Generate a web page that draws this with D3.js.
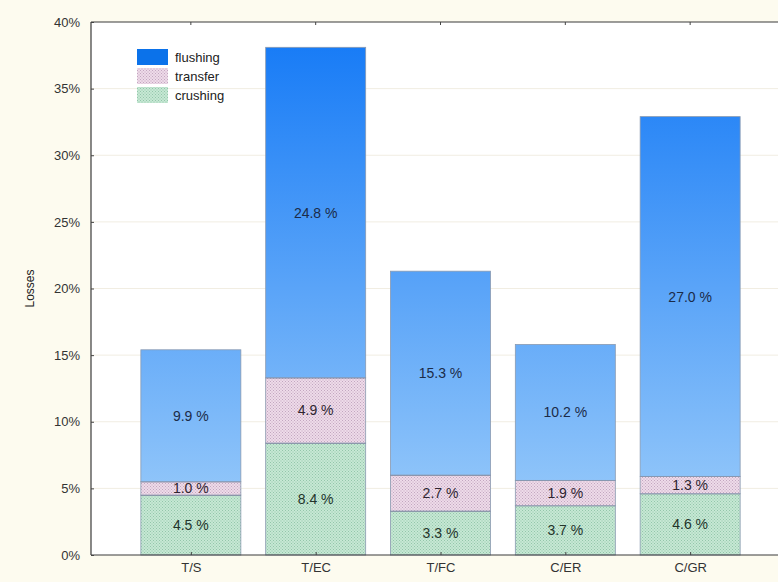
<!DOCTYPE html>
<html>
<head>
<meta charset="utf-8">
<script src="https://cdn.jsdelivr.net/npm/d3@7/dist/d3.min.js"></script>
<style>
  html, body { margin: 0; padding: 0; background: #fdfbef; }
  svg { display: block; }
  text { font-family: Arial, "Liberation Sans", sans-serif; }
</style>
</head>
<body>
<svg id="chart" width="778" height="582"></svg>
<script>
// Loss categories and per-stage shares (percent)
const categories = ["T/S", "T/EC", "T/FC", "C/ER", "C/GR"];
const crushing = [4.5, 8.4, 3.3, 3.7, 4.6];
const transfer = [1.0, 4.9, 2.7, 1.9, 1.3];
const flushing = [9.9, 24.8, 15.3, 10.2, 27.0];
const seriesNames = ["crushing", "transfer", "flushing"];
const legendOrder = ["flushing", "transfer", "crushing"];
const yTicks = [0, 5, 10, 15, 20, 25, 30, 35, 40];

const svg = d3.select("#chart");
const W = 778, H = 582;
const m = { left: 91, top: 22, bottom: 27 };
const plotRight = 790;

const x = d3.scalePoint().domain(categories).range([m.left, plotRight]).padding(0.8);
const y = d3.scaleLinear().domain([0, 40]).range([H - m.bottom, m.top]);
const barW = 100;

const defs = svg.append("defs");
// Flushing gradient runs over the whole value axis, so taller bars get deeper blue at the top
const grad = defs.append("linearGradient")
  .attr("id", "flushGrad").attr("gradientUnits", "userSpaceOnUse")
  .attr("x1", 0).attr("y1", y(40)).attr("x2", 0).attr("y2", y(0));
grad.append("stop").attr("offset", "0%").attr("stop-color", "#1278f6");
grad.append("stop").attr("offset", "100%").attr("stop-color", "#a2d0fa");

function dotPattern(id, bg, dot) {
  const p = defs.append("pattern").attr("id", id)
    .attr("width", 3).attr("height", 3).attr("patternUnits", "userSpaceOnUse");
  p.append("rect").attr("width", 3).attr("height", 3).attr("fill", bg);
  p.append("rect").attr("x", 0).attr("y", 0).attr("width", 1).attr("height", 1).attr("fill", dot);
  p.append("rect").attr("x", 1.5).attr("y", 1.5).attr("width", 1).attr("height", 1).attr("fill", dot);
}
dotPattern("transferPat", "#eedbe9", "#c3a6c0");
dotPattern("crushPat", "#c6e8d4", "#93c6aa");

const fills = {
  crushing: "url(#crushPat)",
  transfer: "url(#transferPat)",
  flushing: "url(#flushGrad)"
};
const legendFills = {
  crushing: "url(#crushPat)",
  transfer: "url(#transferPat)",
  flushing: "#0b72ea"
};
const labelColors = { crushing: "#23342b", transfer: "#2e2530", flushing: "#1b2b48" };

// Plot background
svg.append("rect")
  .attr("x", m.left).attr("y", m.top)
  .attr("width", W - m.left).attr("height", y(0) - m.top)
  .attr("fill", "#ffffff");

// Horizontal grid
svg.append("g").selectAll("line").data(yTicks.slice(1, -1)).join("line")
  .attr("x1", m.left).attr("x2", W)
  .attr("y1", d => y(d)).attr("y2", d => y(d))
  .attr("stroke", "#f1ede2").attr("stroke-width", 1);

// Stacked data
const rows = categories.map((c, i) => ({ cat: c, crushing: crushing[i], transfer: transfer[i], flushing: flushing[i] }));
const stacked = d3.stack().keys(seriesNames)(rows);

const layers = svg.append("g").selectAll("g").data(stacked).join("g");
layers.selectAll("rect").data(d => d.map(v => ({ key: d.key, v }))).join("rect")
  .attr("x", d => x(d.v.data.cat) - barW / 2)
  .attr("y", d => y(d.v[1]))
  .attr("width", barW)
  .attr("height", d => y(d.v[0]) - y(d.v[1]))
  .attr("fill", d => fills[d.key])
  .attr("stroke", "#8a9ab0").attr("stroke-width", 0.8);

// Segment separators
layers.filter(d => d.key !== "flushing").selectAll("line").data(d => d).join("line")
  .attr("x1", d => x(d.data.cat) - barW / 2).attr("x2", d => x(d.data.cat) + barW / 2)
  .attr("y1", d => y(d[1])).attr("y2", d => y(d[1]))
  .attr("stroke", "#6f6f8a").attr("stroke-width", 1);

// Value labels
layers.selectAll("text").data(d => d.map(v => ({ key: d.key, v }))).join("text")
  .attr("x", d => x(d.v.data.cat))
  .attr("y", d => (y(d.v[0]) + y(d.v[1])) / 2)
  .attr("dy", "0.36em")
  .attr("text-anchor", "middle")
  .attr("font-size", 14)
  .attr("fill", d => labelColors[d.key])
  .text(d => d3.format(".1f")(d.v.data[d.key]) + " %");

// Axes frame
const frame = svg.append("g").attr("stroke", "#3a3a3a").attr("stroke-width", 1.2);
frame.append("line").attr("x1", m.left).attr("x2", W).attr("y1", m.top).attr("y2", m.top);
frame.append("line").attr("x1", m.left).attr("x2", W).attr("y1", y(0)).attr("y2", y(0));
frame.append("line").attr("x1", m.left).attr("x2", m.left).attr("y1", m.top).attr("y2", y(0));

// Y axis
const yAxis = svg.append("g").attr("transform", `translate(${m.left},0)`)
  .call(d3.axisLeft(y).tickValues(yTicks).tickFormat(d => d + "%").tickSize(-3).tickPadding(11));
yAxis.select(".domain").remove();
yAxis.selectAll(".tick line").attr("stroke", "#444");
yAxis.selectAll(".tick text").attr("font-size", 13).attr("fill", "#333")
  .style("font-family", "Arial, 'Liberation Sans', sans-serif");

// X axis
const xAxis = svg.append("g").attr("transform", `translate(0,${y(0)})`)
  .call(d3.axisBottom(x).tickSize(-3).tickPadding(8));
xAxis.select(".domain").remove();
xAxis.selectAll(".tick line").attr("stroke", "#444");
xAxis.selectAll(".tick text").attr("font-size", 13).attr("fill", "#333")
  .style("font-family", "Arial, 'Liberation Sans', sans-serif");

// Top ticks
svg.append("g").selectAll("line").data(categories).join("line")
  .attr("x1", d => x(d)).attr("x2", d => x(d))
  .attr("y1", m.top).attr("y2", m.top + 3)
  .attr("stroke", "#444");

// Y title
svg.append("text")
  .attr("transform", `translate(34,${(m.top + y(0)) / 2}) rotate(-90)`)
  .attr("text-anchor", "middle")
  .attr("font-size", 12).attr("fill", "#222")
  .text("Losses");

// Legend
const lg = svg.append("g").attr("transform", "translate(137,49)");
lg.selectAll("rect").data(legendOrder).join("rect")
  .attr("x", 0).attr("y", (d, i) => i * 19)
  .attr("width", 31).attr("height", 16)
  .attr("fill", d => legendFills[d]);
lg.selectAll("text").data(legendOrder).join("text")
  .attr("x", 38).attr("y", (d, i) => i * 19 + 8)
  .attr("dy", "0.35em")
  .attr("font-size", 13).attr("fill", "#222")
  .text(d => d);
</script>
</body>
</html>
